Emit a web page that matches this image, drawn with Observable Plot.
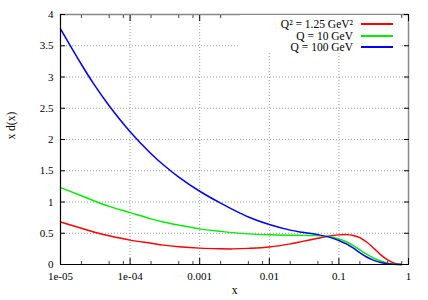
<!DOCTYPE html>
<html>
<head>
<meta charset="utf-8">
<script src="https://cdn.jsdelivr.net/npm/d3@7"></script>
<script src="https://cdn.jsdelivr.net/npm/@observablehq/plot@0.6"></script>
<style>
  html, body { margin: 0; padding: 0; background: #fff; }
  #wrap { position: relative; width: 428px; height: 300px; font-family: "Liberation Serif", serif; }
  #legend { position: absolute; left: 240px; top: 15px; width: 160px; height: 38px; background: #fff; }
  .row { position: absolute; right: 7px; height: 12px; display: flex; align-items: center; font-size: 11.5px; color: #000; white-space: nowrap; }
  .row span.sw { display: inline-block; width: 32px; height: 2px; margin-left: 8px; }
</style>
</head>
<body>
<div id="wrap"></div>
<script>
// ---- data ----
const xs = [1e-5, 2e-5, 3e-5, 5e-5, 1e-4, 2e-4, 3e-4, 5e-4, 1e-3, 2e-3, 3e-3, 5e-3,
            0.01, 0.02, 0.03, 0.05, 0.07, 0.1, 0.13, 0.16, 0.2, 0.25, 0.3, 0.35, 0.4, 0.5, 0.6, 0.7, 0.8];
const redQ125 = [0.68, 0.58, 0.52, 0.46, 0.39, 0.34, 0.31, 0.285, 0.262, 0.252, 0.25, 0.258,
                 0.28, 0.33, 0.37, 0.42, 0.452, 0.474, 0.478, 0.465, 0.43, 0.36, 0.285, 0.215, 0.155, 0.075, 0.03, 0.008, 0];
const greenQ10 = [1.23, 1.10, 1.02, 0.93, 0.83, 0.73, 0.68, 0.63, 0.57, 0.53, 0.51, 0.49,
                  0.475, 0.468, 0.466, 0.462, 0.448, 0.41, 0.36, 0.305, 0.235, 0.165, 0.115, 0.08, 0.055, 0.022, 0.008, 0.002, 0];
const blueQ100 = [3.77, 3.20, 2.89, 2.54, 2.125, 1.773, 1.596, 1.398, 1.172, 0.981, 0.879, 0.761,
                  0.64, 0.55, 0.515, 0.478, 0.442, 0.385, 0.325, 0.265, 0.19, 0.12, 0.078, 0.05, 0.033, 0.013, 0.004, 0.001, 0];
const seriesNames = ["Q\u00B2 = 1.25 GeV\u00B2", "Q = 10 GeV", "Q = 100 GeV"];
const seriesColors = ["#ff0000", "#00ee00", "#0000ff"];
const xTicks = [1e-5, 1e-4, 1e-3, 1e-2, 1e-1, 1];
const xTickLabels = ["1e-05", "1e-04", "0.001", "0.01", "0.1", "1"];
const yTicks = [0, 0.5, 1, 1.5, 2, 2.5, 3, 3.5, 4];
const yTickLabels = ["0", "0.5", "1", "1.5", "2", "2.5", "3", "3.5", "4"];
const minorFactors = [2, 5, 8];
const xDomain = [1e-5, 1];
const yDomain = [0, 4];
const xLabel = "x";
const yLabel = "x d(x)";

// ---- build ----
const allSeries = [redQ125, greenQ10, blueQ100];
const rows = [];
allSeries.forEach((vals, s) => vals.forEach((v, i) => rows.push({x: xs[i], y: v, s: seriesNames[s]})));
const minorTicks = [];
xTicks.slice(0, -1).forEach(d => minorFactors.forEach(f => minorTicks.push(d * f)));

const empty = () => "";
const plot = Plot.plot({
  width: 428, height: 300,
  marginLeft: 60, marginRight: 20, marginTop: 14, marginBottom: 36,
  style: {fontFamily: "Liberation Serif, serif", fontSize: "11px", background: "#fff", color: "#000"},
  x: {type: "log", domain: xDomain},
  y: {domain: yDomain},
  color: {domain: seriesNames, range: seriesColors},
  marks: [
    Plot.gridX(xTicks.slice(1, -1), {stroke: "#999", strokeOpacity: 1, strokeDasharray: "1,2"}),
    Plot.gridY(yTicks.slice(1, -1), {stroke: "#999", strokeOpacity: 1, strokeDasharray: "1,2"}),
    Plot.line(rows, {x: "x", y: "y", z: "s", stroke: "s", strokeWidth: 1.5, curve: "catmull-rom"}),
    // frame
    Plot.ruleX([xDomain[1]], {stroke: "#888", strokeWidth: 1.5}),
    Plot.ruleY([yDomain[1]], {stroke: "#888", strokeWidth: 1.5}),
    Plot.ruleX([xDomain[0]], {stroke: "#000", strokeWidth: 1.2}),
    Plot.ruleY([yDomain[0]], {stroke: "#000", strokeWidth: 1.2}),
    // inward ticks
    Plot.axisX({anchor: "bottom", ticks: xTicks, tickSize: -6, tickFormat: empty, label: null}),
    Plot.axisX({anchor: "top", ticks: xTicks, tickSize: -6, tickFormat: empty, label: null}),
    Plot.axisX({anchor: "bottom", ticks: minorTicks, tickSize: -3, tickFormat: empty, label: null, stroke: "#444"}),
    Plot.axisX({anchor: "top", ticks: minorTicks, tickSize: -3, tickFormat: empty, label: null, stroke: "#444"}),
    Plot.axisY({anchor: "left", ticks: yTicks, tickSize: -5, tickFormat: empty, label: null}),
    Plot.axisY({anchor: "right", ticks: yTicks, tickSize: -5, tickFormat: empty, label: null}),
    // tick labels
    Plot.axisX({anchor: "bottom", ticks: xTicks, tickSize: 0, tickPadding: 8, label: null,
                tickFormat: d => xTickLabels[xTicks.indexOf(d)]}),
    Plot.axisY({anchor: "left", ticks: yTicks, tickSize: 0, tickPadding: 7, label: null,
                tickFormat: d => yTickLabels[yTicks.indexOf(d)]}),
    // axis titles
    Plot.text([xLabel], {frameAnchor: "bottom", dy: 29, text: d => d, fontSize: 11.5}),
    Plot.text([yLabel], {frameAnchor: "left", dx: -49, rotate: -90, text: d => d, fontSize: 11.5})
  ]
});
const wrap = document.getElementById("wrap");
wrap.appendChild(plot);

// legend
const legend = document.createElement("div");
legend.id = "legend";
seriesNames.forEach((name, i) => {
  const r = document.createElement("div");
  r.className = "row";
  r.style.top = (3 + i * 11.5) + "px";
  const t = document.createElement("span");
  t.textContent = name;
  const sw = document.createElement("span");
  sw.className = "sw";
  sw.style.background = seriesColors[i];
  r.appendChild(t); r.appendChild(sw);
  legend.appendChild(r);
});
wrap.appendChild(legend);
</script>
</body>
</html>
